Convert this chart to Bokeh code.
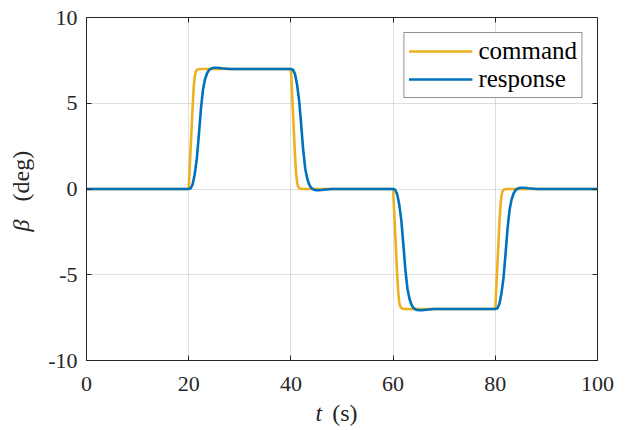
import math
from bokeh.plotting import figure
from bokeh.models import (ColumnDataSource, Range1d, FixedTicker, LinearAxis,
                          Label, Legend, LegendItem)
from bokeh.embed import file_html
from bokeh.resources import INLINE

# ---- data ----
t_cmd = [0,
         20.0, 20.2, 20.4, 20.6, 20.8, 21.0, 21.2, 21.4, 21.7, 22.2,
         40.0, 40.2, 40.4, 40.6, 40.8, 41.0, 41.2, 41.4, 41.7, 42.2,
         60.0, 60.2, 60.4, 60.6, 60.8, 61.0, 61.2, 61.4, 61.7, 62.2,
         80.0, 80.2, 80.4, 80.6, 80.8, 81.0, 81.2, 81.4, 81.7, 82.2,
         100]
cmd = [0,
       0.0, 1.25, 2.5, 3.75, 5.0, 6.0, 6.6, 6.85, 6.97, 7.0,
       7.0, 5.75, 4.5, 3.25, 2.0, 1.0, 0.4, 0.15, 0.03, 0.0,
       0.0, -1.25, -2.5, -3.75, -5.0, -6.0, -6.6, -6.85, -6.97, -7.0,
       -7.0, -5.75, -4.5, -3.25, -2.0, -1.0, -0.4, -0.15, -0.03, 0.0,
       0.0]

t_resp = [0,
          20.0, 20.4, 20.8, 21.2, 21.6, 22.0, 22.4, 22.8, 23.2, 23.6, 24.0, 24.5, 25.0, 25.6, 26.5, 28.0,
          40.0, 40.4, 40.8, 41.2, 41.6, 42.0, 42.4, 42.8, 43.2, 43.6, 44.0, 44.5, 45.0, 45.6, 46.5, 48.0,
          60.0, 60.4, 60.8, 61.2, 61.6, 62.0, 62.4, 62.8, 63.2, 63.6, 64.0, 64.5, 65.0, 65.6, 66.5, 68.0,
          80.0, 80.4, 80.8, 81.2, 81.6, 82.0, 82.4, 82.8, 83.2, 83.6, 84.0, 84.5, 85.0, 85.6, 86.5, 88.0,
          100]
resp = [0,
        0.0, 0.04, 0.3, 0.9, 1.8, 3.2, 4.7, 5.8, 6.4, 6.75, 6.95, 7.04, 7.07, 7.07, 7.04, 7.0,
        7.0, 6.96, 6.7, 6.1, 5.2, 3.8, 2.3, 1.2, 0.6, 0.25, 0.05, -0.04, -0.07, -0.07, -0.04, 0.0,
        0.0, -0.04, -0.3, -0.9, -1.8, -3.2, -4.7, -5.8, -6.4, -6.75, -6.95, -7.04, -7.07, -7.07, -7.04, -7.0,
        -7.0, -6.96, -6.7, -6.1, -5.2, -3.8, -2.3, -1.2, -0.6, -0.25, -0.05, 0.04, 0.07, 0.07, 0.04, 0.0,
        0.0]

x_ticks = [0, 20, 40, 60, 80, 100]
y_ticks = [-10, -5, 0, 5, 10]
y_tick_labels = {-10: "-10", -5: "-5", 0: "0", 5: "5", 10: "10"}
series_names = ["command", "response"]
series_colors = ["#EDB120", "#0072BD"]

FONT = "Liberation Serif"
INK = "#262626"

p = figure(width=625, height=430, output_backend="svg", toolbar_location=None,
           x_range=Range1d(0, 100), y_range=Range1d(-10, 10),
           min_border_left=86, min_border_right=28, min_border_top=17,
           min_border_bottom=70, background_fill_color="white",
           border_fill_color="white")
p.outline_line_color = INK
p.outline_line_width = 1

src_cmd = ColumnDataSource(dict(t=t_cmd, v=cmd))
src_resp = ColumnDataSource(dict(t=t_resp, v=resp))
r1 = p.line("t", "v", source=src_cmd, line_color=series_colors[0], line_width=2.6,
            line_join="round")
r2 = p.line("t", "v", source=src_resp, line_color=series_colors[1], line_width=2.6,
            line_join="round")

# axes
for ax, ticks in ((p.xaxis[0], x_ticks), (p.yaxis[0], y_ticks)):
    ax.ticker = FixedTicker(ticks=ticks)
    ax.major_tick_in = 5
    ax.major_tick_out = 0
    ax.minor_tick_line_color = None
    ax.axis_line_color = INK
    ax.major_tick_line_color = INK
    ax.major_label_text_font = FONT
    ax.major_label_text_font_size = "22px"
    ax.major_label_text_color = INK
p.yaxis[0].major_label_overrides = y_tick_labels
p.xaxis[0].major_label_standoff = 16
p.yaxis[0].major_label_standoff = 9

top_ax = LinearAxis(ticker=FixedTicker(ticks=x_ticks),
                    major_label_overrides={t: "" for t in x_ticks})
right_ax = LinearAxis(ticker=FixedTicker(ticks=y_ticks),
                      major_label_overrides={t: "" for t in y_ticks})
for ax in (top_ax, right_ax):
    ax.major_tick_in = 5
    ax.major_tick_out = 0
    ax.minor_tick_line_color = None
    ax.axis_line_color = None
    ax.major_tick_line_color = INK
    ax.major_label_standoff = 0
    ax.major_label_text_font_size = "0px"
p.add_layout(top_ax, "above")
p.add_layout(right_ax, "right")

# grid
p.xgrid.ticker = FixedTicker(ticks=x_ticks)
p.ygrid.ticker = FixedTicker(ticks=y_ticks)
for g in (p.xgrid[0], p.ygrid[0]):
    g.grid_line_color = INK
    g.grid_line_alpha = 0.15

# axis labels (italic symbol + upright unit). They sit in side panels so they
# are not clipped by the frame; positions are given on the plot's own scales.
lab_kw = dict(x_units="data", y_units="data", text_font=FONT,
              text_font_size="24px", text_color=INK,
              text_baseline="alphabetic", text_align="left")
p.add_layout(Label(x=-12.9, y=-2.48, angle=math.pi / 2, text="β",
                   text_font_style="italic", **lab_kw), "left")
p.add_layout(Label(x=44.8, y=-13.09, text="t", text_font_style="italic",
                   **lab_kw), "left")
p.add_layout(Label(x=48.1, y=-13.09, text="(s)", **lab_kw), "below")
p.add_layout(Label(x=-12.9, y=-0.73, angle=math.pi / 2, text="(deg)",
                   **lab_kw), "right")

legend = Legend(items=[LegendItem(label=series_names[0], renderers=[r1]),
                       LegendItem(label=series_names[1], renderers=[r2])],
                location="top_right")
legend.border_line_color = INK
legend.border_line_width = 1
legend.background_fill_color = "white"
legend.background_fill_alpha = 1
legend.label_text_font = FONT
legend.label_text_font_size = "25px"
legend.label_text_color = "black"
legend.glyph_width = 64
legend.glyph_height = 24
legend.label_height = 24
legend.padding = 4
legend.spacing = 0
legend.label_standoff = 6
legend.margin = 15
p.add_layout(legend)

open("out.html", "w").write(file_html(p, INLINE))
